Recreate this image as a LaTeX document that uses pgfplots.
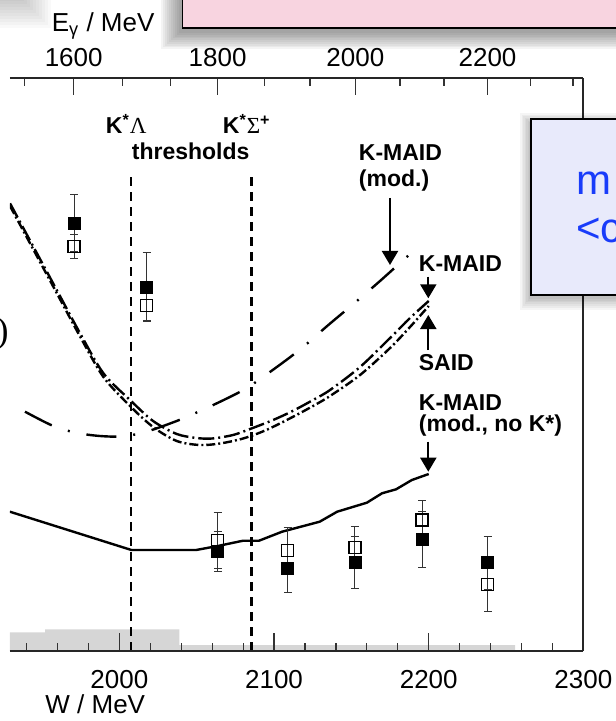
\documentclass[border=0pt]{standalone}
\usepackage{fontspec}
\setmainfont{Liberation Sans}
\newfontfamily\seriffont{Liberation Serif}
\usepackage{pgfplots}
\pgfplotsset{compat=1.18}
\usetikzlibrary{arrows.meta}

\definecolor{pinkbox}{RGB}{248,212,224}
\definecolor{bluebox}{RGB}{232,234,251}
\definecolor{bluetext}{RGB}{25,60,250}

\newcommand{\lab}{\fontsize{11.5}{13}\selectfont\bfseries}

\begin{document}
\begin{tikzpicture}
\useasboundingbox (0,0) rectangle (307.5pt,-360.5pt);

% ---------- main (W) axis ----------
\begin{axis}[
  at={(5pt,-325.5pt)}, anchor=south west,
  scale only axis, width=286.7pt, height=286.35pt,
  xmin=1929.3, xmax=2300, ymin=0, ymax=572.7,
  axis x line*=bottom, axis y line*=right,
  ytick=\empty,
  xtick={2000,2100,2200,2300},
  xticklabels={2000,2100,2200,2300},
  minor xtick={1940,1960,1980,2020,2040,2060,2080,2120,2140,2160,2180,2220,2240,2260,2280},
  tick align=inside,
  major tick length=9pt, minor tick length=4pt,
  axis line style={line width=1pt, black!85},
  tick style={black!80, line width=0.6pt},
  ticklabel style={font=\fontsize{13}{15}\selectfont},
  /pgf/number format/assume math mode=true,
  xticklabel style={yshift=-6pt},
  axis on top, clip=true,
]
% systematic band
\addplot[fill=black!16, draw=none, const plot, forget plot]
  coordinates {(1929.3,18.7) (1952,21.7) (2038.8,6) (2255.8,0)} \closedcycle;

% thresholds
\addplot[black, line width=1.2pt, dash pattern=on 4.5pt off 3pt]
  coordinates {(2007.6,0) (2007.6,478)};
\addplot[black, line width=1.2pt, dash pattern=on 4.5pt off 3pt]
  coordinates {(2085.5,0) (2085.5,478)};

% K-MAID (mod., no K*)
\addplot[black, line width=1.2pt] coordinates {
 (1929.2,139.3) (2007.8,101) (2049.6,101) (2063.6,105) (2080,110.3) (2090.3,110.3)
 (2105.2,119.3) (2129.5,129.3) (2140.8,139.3) (2160,148.3) (2169.8,157.7)
 (2178.9,161.7) (2189.1,171) (2200,177)};

% K-MAID (mod.)
\addplot[black, line width=1.2pt, smooth, dash pattern=on 15pt off 8.5pt on 1pt off 8.5pt] coordinates {
 (1939,239.3) (1957.3,225) (1972.7,218) (1987.5,215) (2000.5,214.5) (2013.4,217.5)
 (2024.2,222.7) (2041.4,232.7) (2063,247.7) (2082.4,263) (2101.8,284) (2118,303)
 (2135.1,326) (2151.3,347) (2168.5,370) (2183.6,391) (2193,404)};

% K-MAID
\addplot[black, line width=1.2pt, smooth, dash pattern=on 8pt off 2pt on 1pt off 2pt] coordinates {
 (1929.3,447.7) (1944.4,404.3) (1959.5,361) (1974.6,317.7) (1989.7,277.7) (2006.9,251)
 (2021.8,230) (2037.1,217) (2050,213) (2060,212.5) (2073.5,216) (2084.5,222)
 (2099.4,231) (2112,240) (2125.2,251) (2136.2,261) (2155.6,284) (2175,313)
 (2187.9,333) (2200,350)};

% SAID
\addplot[black, line width=1.2pt, smooth, dash pattern=on 4.5pt off 1.5pt on 1pt off 1.5pt] coordinates {
 (1929.3,445) (1944.4,401.5) (1959.5,358) (1974.6,314.5) (1989.7,274) (2006.9,245)
 (2021.8,224) (2037.1,210) (2052,206) (2065,207.5) (2080,212.5) (2095,221)
 (2112,234) (2125.2,245) (2136.2,255) (2155.6,276) (2175,303) (2187.9,324) (2200,345)};

% open squares
\addplot[only marks, mark=square, mark size=3pt, black, mark options={line width=0.6pt},
  error bars/.cd, y dir=both, y explicit,
  error bar style={line width=0.5pt, black!80},
  error mark options={rotate=90, mark size=2pt, line width=0.5pt, black!80}]
  coordinates {
  (1970.7,404.3) +- (0,12.3)
  (2017.7,345.3) +- (0,14.3)
  (2063.6,110.3) +- (0,28)
  (2108.8,100.3) +- (0,23.4)
  (2152.3,103.7) +- (0,21.3)
  (2195.7,131) +- (0,19.3)
  (2238.1,66.7) +- (0,27.4)};

% filled squares
\addplot[only marks, mark=square*, mark size=3pt, black,
  error bars/.cd, y dir=both, y explicit,
  error bar style={line width=0.5pt, black!80},
  error mark options={rotate=90, mark size=2pt, line width=0.5pt, black!80}]
  coordinates {
  (1970.7,427.7) +- (0,28.3)
  (2017.7,363.7) +- (0,34.6)
  (2063.6,100) +- (0,20)
  (2108.8,82.7) +- (0,24)
  (2152.3,88.3) +- (0,26)
  (2195.7,111.7) +- (0,28)
  (2238.1,88.3) +- (0,26.7)};
\end{axis}

% ---------- top (E_gamma) axis ----------
\begin{axis}[
  at={(5pt,-325.5pt)}, anchor=south west,
  scale only axis, width=286.7pt, height=286.35pt,
  xmin=1929.3, xmax=2300, ymin=0, ymax=572.7,
  axis x line*=top, axis y line=none,
  xtick={1970.489,2063.52,2152.54,2238.02},
  xticklabels={1600,1800,2000,2200},
  minor xtick={1938.485,2001.981,2032.985,2093.62,2123.28,2181.41,2209.90,2265.80,2293.24},
  tick align=inside,
  major tick length=8.5pt, minor tick length=4pt,
  axis line style={line width=1pt, black!85},
  tick style={black!80, line width=0.6pt},
  ticklabel style={font=\fontsize{13}{15}\selectfont},
  /pgf/number format/assume math mode=true,
  xticklabel style={yshift=2.4pt},
]
\end{axis}

\begin{scope}[x=0.5pt,y=-0.5pt]
% annotations
\node[anchor=base west, inner sep=0] at (105.5,134) {\lab K\textsuperscript{*}{\seriffont\mdseries Λ}};
\node[anchor=base west, inner sep=0] at (222.5,134) {\lab K\textsuperscript{*}{\seriffont\mdseries Σ}\textsuperscript{+}};
\node[anchor=base west, inner sep=0] at (131.5,159.5) {\lab thresholds};

\node[anchor=base west, inner sep=0] at (358.5,160.5) {\lab K-MAID};
\node[anchor=base west, inner sep=0] at (358.5,187) {\lab (mod.)};
\node[anchor=base west, inner sep=0] at (418.5,271.5) {\lab K-MAID};
\node[anchor=base west, inner sep=0] at (418.5,370.5) {\lab SAID};
\node[anchor=base west, inner sep=0] at (418.5,410.5) {\lab K-MAID};
\node[anchor=base west, inner sep=0] at (418.5,431.5) {\lab (mod., no K*)};

\draw[line width=1pt, -{Triangle[width=8pt,length=7pt]}] (390,198) -- (390,265);
\draw[line width=1pt, -{Triangle[width=8pt,length=7pt]}] (428.3,276.7) -- (428.3,298.3);
\draw[line width=1pt, -{Triangle[width=8pt,length=7pt]}] (428.3,350) -- (428.3,315);
\draw[line width=1pt, -{Triangle[width=8pt,length=7pt]}] (428.3,441.7) -- (428.3,471.7);

\node[anchor=east, inner sep=0, font=\seriffont\fontsize{18}{20}\selectfont] at (9,334) {)};

% axis titles
\node[anchor=base west, inner sep=0, font=\fontsize{13}{15}\selectfont] at (51.5,31.7) {E\textsubscript{γ} / MeV};
\node[anchor=base west, inner sep=0, font=\fontsize{13}{15}\selectfont] at (45,713) {W / MeV};

% shadows
\foreach \i in {1,...,12}{
  \fill[black, opacity=0.025] (-100,-100) rectangle (15+3*\i, -8+3*\i);
}
\foreach \i in {1,...,10}{
  \fill[black, opacity=0.045] (181.4-2*\i,-40) rectangle (700, 31.3+1.8*\i);
}
\foreach \i in {1,...,7}{
  \fill[black, opacity=0.04] (530.7-1.5*\i,124-1.5*\i) rectangle (700, 297+1.8*\i);
}
% boxes
\filldraw[fill=pinkbox, draw=black, line width=0.9pt] (182.4,-40) rectangle (700,28.3);
\filldraw[fill=bluebox, draw=black, line width=0.9pt] (530.7,119.3) rectangle (700,295);
\node[anchor=base west, inner sep=0, text=bluetext, font=\fontsize{21}{25}\selectfont] at (576,195) {m};
\node[anchor=base west, inner sep=0, text=bluetext, font=\fontsize{21}{25}\selectfont] at (576,243) {<c};
\end{scope}
\end{tikzpicture}
\end{document}
